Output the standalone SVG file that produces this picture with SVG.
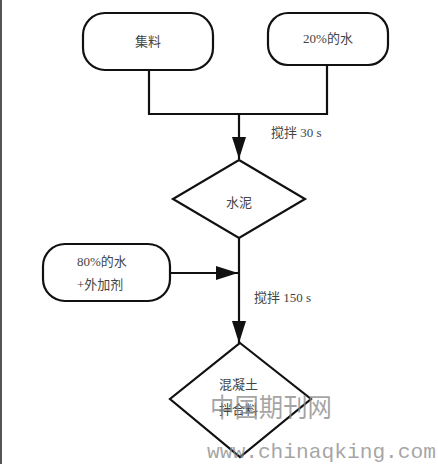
<svg xmlns="http://www.w3.org/2000/svg" width="438" height="464" viewBox="0 0 438 464">
<defs>
<style>
.n{fill:#fff;stroke:#111;stroke-width:2.2}
.t{font-family:"Liberation Serif","Noto Sans CJK SC",serif;font-size:13px;fill:#444}
.c{fill:none;stroke:#111;stroke-width:2.2}
.wm{fill:#888;fill-opacity:0.75}
</style>
<marker id="ah" viewBox="0 0 22 14" refX="22" refY="7" markerWidth="10" markerHeight="6.4" orient="auto" markerUnits="strokeWidth">
<path d="M0,0 L22,7 L0,14 Z" fill="#111"/>
</marker>
</defs>
<rect width="438" height="464" fill="#fff"/>
<line x1="1" y1="0" x2="1" y2="464" stroke="#555" stroke-width="2"/>
<g id="connectors">
<polyline class="c" points="149,70 149,114 327,114 327,65"/>
<line class="c" x1="239" y1="114" x2="239" y2="159" marker-end="url(#ah)"/>
<line class="c" x1="239" y1="238" x2="239" y2="343" marker-end="url(#ah)"/>
<line class="c" x1="170" y1="273" x2="238" y2="273" marker-end="url(#ah)"/>
<text class="t" x="271" y="137">搅拌 30 s</text>
<text class="t" x="254" y="302">搅拌 150 s</text>
</g>
<g id="n1">
<rect class="n" x="83" y="13" width="130" height="57" rx="22"/>
<text class="t" x="148" y="46" text-anchor="middle">集料</text>
</g>
<g id="n2">
<rect class="n" x="268" y="13" width="120" height="52" rx="20"/>
<text class="t" x="328" y="43" text-anchor="middle">20%的水</text>
</g>
<g id="n3">
<polygon class="n" points="239,160 305,199 239,238 173,199"/>
<text class="t" x="239" y="207" text-anchor="middle">水泥</text>
</g>
<g id="n4">
<rect class="n" x="43" y="244" width="127" height="57" rx="22"/>
<text class="t" x="77" y="266">80%的水</text>
<text class="t" x="77" y="289">+外加剂</text>
</g>
<g id="n5">
<polygon class="n" points="240,343 311,399 240,457 170,399"/>
<text class="t" x="219" y="389">混凝土</text>
<text class="t" x="219" y="414">拌合料</text>
</g>
<text class="wm" x="210" y="417" font-size="26" textLength="122" lengthAdjust="spacingAndGlyphs" style="font-family:'Noto Sans CJK SC',sans-serif">中国期刊网</text>
<text class="wm" x="207" y="458" font-size="21" textLength="229" lengthAdjust="spacingAndGlyphs" style="font-family:'Liberation Mono',monospace">www.chinaqking.com</text>
</svg>
